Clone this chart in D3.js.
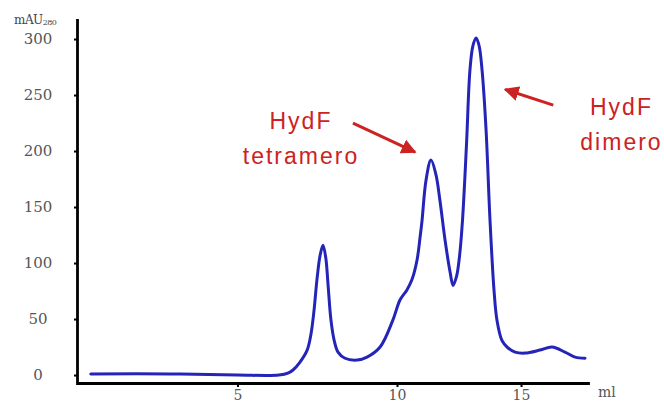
<!DOCTYPE html>
<html>
<head>
<meta charset="utf-8">
<script src="https://cdn.jsdelivr.net/npm/d3@7"></script>
<style>
  html, body { margin: 0; padding: 0; background: #fff; }
  svg { display: block; }
</style>
</head>
<body>
<svg id="chart" width="664" height="405"></svg>
<script>
// ---- data ----
const volumeMl = [0.4, 2.9, 5.0, 6.3, 6.6, 6.74, 6.96, 7.18, 7.30, 7.40, 7.49, 7.59, 7.68, 7.77, 7.84, 7.93, 8.03, 8.15, 8.37, 8.75, 9.06, 9.47, 9.87, 10.12, 10.40, 10.60, 10.81, 10.93, 11.01, 11.17, 11.37, 11.57, 11.73, 11.94, 12.14, 12.26, 12.40, 12.52, 12.64, 12.80, 12.94, 13.06, 13.19, 13.31, 13.43, 13.59, 13.75, 13.91, 14.03, 14.23, 14.44, 14.76, 15.16, 15.77, 16.25, 16.77, 17.18, 17.58];
const absorbance = [1, 1, 0, 0, 2, 4.5, 11.6, 22, 36, 58, 85, 107, 116, 104, 80, 49, 31, 20.5, 15, 13.4, 16, 25, 49, 67, 76, 85, 103, 123, 138, 174, 192, 179, 156, 120, 92, 80, 88, 106, 138, 205, 272, 294, 301, 294, 272, 219, 138, 76, 49, 31, 25, 20.5, 19.6, 22.3, 25, 20.5, 16, 15];
const yTicks = [0, 50, 100, 150, 200, 250, 300];
const xTicks = [5, 10, 15];
const yUnit = "mAU";
const yUnitSub = "280";
const xUnit = "ml";
const annotLabels = [
  { lines: ["HydF", "tetramero"], x: 6.99, y: 220, arrowFrom: [8.62, 225], arrowTo: [10.73, 199] },
  { lines: ["HydF", "dimero"], x: 19.05, y: 232, arrowFrom: [16.3, 241], arrowTo: [14.36, 255] }
];

// ---- layout ----
const svg = d3.select("#chart");
const x = d3.scaleLinear().domain([0, 10, 17.7]).range([78, 397, 588]);
const y = d3.scaleLinear().domain([-7.1, 317]).range([383, 20]);
const axisColor = "#000";
const labelColor = "#555";
const red = "#cc2222";

// curve
const line = d3.line()
  .x((d, i) => x(volumeMl[i]))
  .y(d => y(d))
  .curve(d3.curveCatmullRom.alpha(0.5));
svg.append("path")
  .datum(absorbance)
  .attr("d", line)
  .attr("fill", "none")
  .attr("stroke", "#2424b8")
  .attr("stroke-width", 3)
  .attr("stroke-linejoin", "round")
  .attr("stroke-linecap", "round");

// y axis
const yAxis = d3.axisLeft(y).tickValues(yTicks).tickSize(3).tickSizeOuter(0);
const gy = svg.append("g").attr("transform", "translate(77,0)").call(yAxis);
gy.select(".domain").attr("stroke", axisColor).attr("stroke-width", 2.8).attr("stroke-linecap", "square");
gy.selectAll(".tick line").attr("stroke", axisColor).attr("stroke-width", 2);
gy.selectAll(".tick text")
  .attr("x", -39).attr("text-anchor", "middle")
  .attr("fill", labelColor)
  .style("font-family", "'DejaVu Serif', serif")
  .style("font-size", "15px");

// x axis
const xAxis = d3.axisBottom(x).tickValues(xTicks).tickSize(4).tickSizeOuter(0);
const gx = svg.append("g").attr("transform", "translate(0,383)").call(xAxis);
gx.select(".domain").attr("stroke", axisColor).attr("stroke-width", 2.8).attr("stroke-linecap", "square");
gx.selectAll(".tick line").attr("stroke", axisColor).attr("stroke-width", 2);
gx.selectAll(".tick text")
  .attr("y", 17).attr("dy", 0)
  .attr("fill", labelColor)
  .style("font-family", "'DejaVu Serif', serif")
  .style("font-size", "14px");

// unit labels
const yu = svg.append("text")
  .attr("x", 14).attr("y", 24)
  .attr("fill", "#444")
  .style("font-family", "'DejaVu Serif', serif")
  .style("font-size", "12px")
  .style("letter-spacing", "-0.5px");
yu.append("tspan").text(yUnit);
yu.append("tspan").attr("dy", 1).style("font-size", "8px").text(yUnitSub);

svg.append("text")
  .attr("x", 598).attr("y", 397)
  .attr("fill", labelColor)
  .style("font-family", "'DejaVu Serif', serif")
  .style("font-size", "14px")
  .text(xUnit);

// annotations
const defs = svg.append("defs");
defs.append("marker")
  .attr("id", "arrowhead")
  .attr("viewBox", "0 0 10 10")
  .attr("refX", 9).attr("refY", 5)
  .attr("markerWidth", 5).attr("markerHeight", 5)
  .attr("orient", "auto")
  .append("path").attr("d", "M0,0 L10,5 L0,10 z").attr("fill", red);

annotLabels.forEach(a => {
  const t = svg.append("text")
    .attr("fill", red)
    .attr("text-anchor", "middle")
    .style("font-family", "'Liberation Sans', Arial, sans-serif")
    .style("font-size", "23px")
    .style("letter-spacing", "2px");
  a.lines.forEach((ln, i) => {
    t.append("tspan").attr("x", x(a.x)).attr("y", y(a.y) + i * 35).text(ln);
  });
  svg.append("line")
    .attr("x1", x(a.arrowFrom[0])).attr("y1", y(a.arrowFrom[1]))
    .attr("x2", x(a.arrowTo[0])).attr("y2", y(a.arrowTo[1]))
    .attr("stroke", red).attr("stroke-width", 3)
    .attr("marker-end", "url(#arrowhead)");
});
</script>
</body>
</html>
